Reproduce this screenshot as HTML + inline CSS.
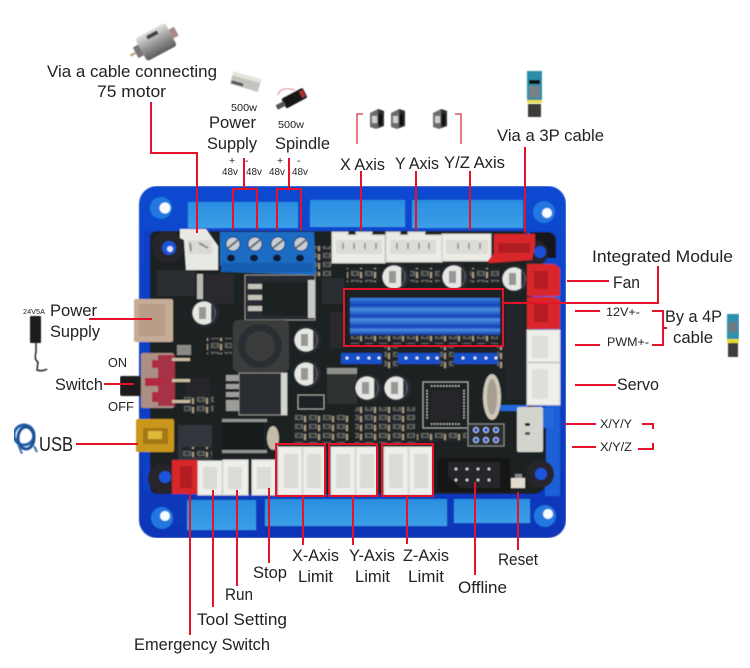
<!DOCTYPE html>
<html><head><meta charset="utf-8"><title>Controller board wiring diagram</title>
<style>html,body{margin:0;padding:0;background:#fff}svg{display:block}text{font-family:"Liberation Sans",sans-serif;fill:#222}</style></head>
<body>
<svg xmlns="http://www.w3.org/2000/svg" width="750" height="668" viewBox="0 0 750 668">
<defs>
<filter id="soft" x="0" y="0" width="100%" height="100%"><feGaussianBlur stdDeviation="0.45"/></filter>
<linearGradient id="bl" x1="0" y1="0" x2="0" y2="1"><stop offset="0" stop-color="#0c4ad0"/><stop offset="1" stop-color="#0736b8"/></linearGradient>
<linearGradient id="win" x1="0" y1="0" x2="0" y2="1"><stop offset="0" stop-color="#2b8ee0"/><stop offset="1" stop-color="#3c9fe6"/></linearGradient>
<linearGradient id="hs" x1="0" y1="0" x2="0" y2="1"><stop offset="0" stop-color="#3b82dc"/><stop offset=".2" stop-color="#1440b8"/><stop offset=".3" stop-color="#4a90e0"/><stop offset=".5" stop-color="#1440b8"/><stop offset=".58" stop-color="#4a90e0"/><stop offset=".78" stop-color="#1440b8"/><stop offset=".86" stop-color="#4a90e0"/><stop offset="1" stop-color="#1238a8"/></linearGradient>
<linearGradient id="mot" x1="0" y1="0" x2="0" y2="1"><stop offset="0" stop-color="#e2e2e2"/><stop offset=".5" stop-color="#9a9a9a"/><stop offset="1" stop-color="#5c5c5c"/></linearGradient>
<pattern id="smd" width="14" height="9" patternUnits="userSpaceOnUse"><rect width="14" height="9" fill="#24272b"/><rect x="1" y="1" width="8" height="5" fill="#62645f"/><rect x="3" y="2" width="4" height="3" fill="#33363a"/><rect x="10" y="2" width="2" height="6" fill="#a89a7a"/></pattern>
<g id="cap"><circle r="14" fill="#262a33"/><circle cx="-1" r="11.5" fill="#e6e6e2"/><path d="M6-9A11.5 11.5 0 0 1 6 9Z" fill="#30343a"/><rect x="-6" y="-6" width="7" height="12" fill="#555" opacity=".55"/></g>
<g id="stp"><path d="M0 4 8 0 14 2V17L6 20 0 18Z" fill="#6c6c6c"/><path d="M8 0 14 2V17L8 19Z" fill="#2e2e2e"/><rect x="2" y="7" width="5" height="7" fill="#cfcfcf"/><rect x="9" y="5" width="3" height="11" fill="#111"/></g>
</defs>

<g filter="url(#soft)">
<!-- board -->
<rect x="139" y="186" width="427" height="352" rx="18" fill="url(#bl)"/>
<rect x="188" y="202" width="110" height="26" fill="url(#win)"/>
<rect x="310" y="200" width="95" height="27" fill="url(#win)"/>
<rect x="412" y="200" width="111" height="28" fill="url(#win)"/>
<rect x="187" y="500" width="69" height="30" fill="url(#win)"/>
<rect x="265" y="499" width="182" height="27" fill="url(#win)"/>
<rect x="454" y="499" width="76" height="24" fill="url(#win)"/>
<rect x="143" y="230" width="10" height="262" fill="#0a40c4"/>
<rect x="545" y="296" width="15" height="200" fill="#1c5fd6"/>

<!-- pcb -->
<path d="M150 238Q150 231 158 231H527V262H532V408H546V482Q546 494 530 494H158Q150 494 150 486Z" fill="#1d2024"/>
<path d="M530 232h18a8 8 0 0 1 8 8v18h-26Z" fill="#16181b"/>
<circle cx="535" cy="253" r="13" fill="#23262a"/><circle cx="540" cy="252" r="6" fill="#1a50d8"/>
<circle cx="168" cy="247" r="16" fill="#25282c"/><circle cx="169" cy="248" r="7" fill="#1a55dc"/><circle cx="170" cy="249" r="3" fill="#dfe8f8"/>
<circle cx="163" cy="479" r="15" fill="#25282c"/><circle cx="165" cy="477" r="6" fill="#1a55dc"/>
<circle cx="540" cy="474" r="14" fill="#25282c"/><circle cx="541" cy="474" r="6" fill="#1a55dc"/>
<rect x="500" y="405" width="28" height="6" fill="#2268d8"/>
<rect x="542" y="408" width="12" height="20" fill="#2268d8"/>

<!-- mount holes -->
<g fill="#2377e0"><circle cx="161" cy="208" r="11"/><circle cx="162" cy="518" r="11"/><circle cx="544" cy="212" r="11"/><circle cx="545" cy="516" r="11"/></g>
<g fill="#f6fbff"><circle cx="165" cy="208" r="5.5"/><circle cx="165" cy="516" r="5"/><circle cx="547" cy="213" r="5"/><circle cx="548" cy="514" r="5"/></g>

<!-- small IC and SMD areas -->
<rect x="157" y="270" width="38" height="26" fill="#2b2d30"/>
<rect x="197" y="274" width="6" height="25" fill="#b8b8b4"/>
<rect x="204" y="274" width="30" height="30" fill="#2a2c2f"/>
<rect x="245" y="275" width="70" height="45" fill="#2a2c30" stroke="#8d8d88"/>
<rect x="262" y="282" width="46" height="34" fill="#1e2023"/>
<rect x="308" y="280" width="7" height="38" fill="#c8c8c4"/>
<g fill="#c4c4bc"><rect x="248" y="284" width="14" height="5"/><rect x="248" y="295" width="14" height="5"/><rect x="248" y="306" width="14" height="5"/></g>
<rect x="322" y="278" width="22" height="26" fill="#2b2e31"/>
<rect x="330" y="312" width="14" height="36" fill="#2a2c2f"/>
<rect x="233" y="320" width="56" height="52" rx="5" fill="#3a3c3e"/><circle cx="260" cy="346" r="22" fill="#2c2e30"/><circle cx="260" cy="346" r="15" fill="#3a3c3d"/>
<rect x="239" y="373" width="48" height="42" fill="#2b2d30" stroke="#8a8a86"/>
<rect x="281" y="373" width="6" height="42" fill="#d4d4d0"/>
<rect x="226" y="375" width="13" height="36" fill="#9c9c98"/>
<g fill="#1d2024"><rect x="226" y="381" width="13" height="3"/><rect x="226" y="389" width="13" height="3"/><rect x="226" y="397" width="13" height="3"/></g>
<rect x="327" y="370" width="30" height="34" fill="#2d3033"/><rect x="327" y="368" width="30" height="6" fill="#8f8f8b"/>
<rect x="298" y="395" width="26" height="14" fill="#1f2225" stroke="#a0a09a"/>
<rect x="222" y="423" width="42" height="27" fill="#181a1c"/>
<g fill="#b0b0aa"><rect x="222" y="419" width="45" height="3" opacity=".8"/><rect x="222" y="450" width="45" height="3" opacity=".8"/></g>
<rect x="178" y="425" width="34" height="35" fill="#33363a"/>
<rect x="186" y="378" width="24" height="30" fill="#25282b"/>
<rect x="184" y="395" width="30" height="18" fill="url(#smd)"/>
<rect x="182" y="447" width="30" height="10" fill="url(#smd)"/>
<rect x="207" y="338" width="25" height="16" fill="url(#smd)"/>
<rect x="177" y="345" width="14" height="10" fill="#8a8a84"/>
<rect x="293" y="415" width="55" height="28" fill="url(#smd)"/>
<rect x="355" y="407" width="60" height="36" fill="url(#smd)"/>
<rect x="417" y="432" width="50" height="10" fill="url(#smd)"/>
<rect x="347" y="268" width="32" height="14" fill="url(#smd)"/>
<rect x="410" y="268" width="30" height="14" fill="url(#smd)"/>
<rect x="470" y="268" width="30" height="14" fill="url(#smd)"/>
<rect x="315" y="246" width="16" height="30" fill="url(#smd)"/>
<rect x="350" y="336" width="148" height="8" fill="url(#smd)"/>
<rect x="384" y="346" width="14" height="22" fill="url(#smd)"/>
<rect x="440" y="346" width="14" height="22" fill="url(#smd)"/>
<rect x="497" y="346" width="14" height="22" fill="url(#smd)"/>
<rect x="505" y="300" width="20" height="100" fill="#23262a"/>

<!-- caps -->
<use href="#cap" x="205" y="313"/>
<use href="#cap" x="307" y="340"/>
<use href="#cap" x="307" y="374"/>
<use href="#cap" x="368" y="388"/>
<use href="#cap" x="397" y="388"/>
<use href="#cap" x="395" y="277"/>
<use href="#cap" x="455" y="277"/>
<use href="#cap" x="515" y="279"/>

<!-- heatsink and blue headers -->
<rect x="350" y="298" width="150" height="37" fill="url(#hs)"/>
<g fill="#1450c8"><rect x="341" y="353" width="41" height="11"/><rect x="398" y="353" width="42" height="11"/><rect x="454" y="353" width="44" height="11"/></g>
<g fill="#e8eef8"><circle cx="347" cy="358" r="1.5"/><circle cx="358" cy="358" r="1.5"/><circle cx="369" cy="358" r="1.5"/><circle cx="379" cy="358" r="1.5"/><circle cx="406" cy="358" r="1.5"/><circle cx="417" cy="358" r="1.5"/><circle cx="428" cy="358" r="1.5"/><circle cx="437" cy="358" r="1.5"/><circle cx="463" cy="358" r="1.5"/><circle cx="475" cy="358" r="1.5"/><circle cx="486" cy="358" r="1.5"/><circle cx="496" cy="358" r="1.5"/></g>

<!-- MCU, crystal -->
<rect x="423" y="382" width="45" height="46" fill="none" stroke="#a8a8a2"/>
<rect x="431" y="390" width="29" height="30" fill="#25282b"/>
<g stroke="#c4c4bc" stroke-width="1.5" stroke-dasharray="1.5 1.5"><path d="M431 386H460M431 424H460M427 390V420M464 390V420"/></g>
<ellipse cx="492" cy="397" rx="9" ry="23" fill="#cfc8ba"/><ellipse cx="492" cy="397" rx="5" ry="18" fill="#a69f90"/>
<ellipse cx="273" cy="438" rx="6" ry="12" fill="#c4bca8"/>
<rect x="468" y="424" width="36" height="22" fill="#2b2e32" stroke="#888"/>
<g fill="#1a55d8" stroke="#cbd4e4" stroke-width="1"><circle cx="476" cy="430" r="2.5"/><circle cx="486" cy="430" r="2.5"/><circle cx="496" cy="430" r="2.5"/><circle cx="476" cy="440" r="2.5"/><circle cx="486" cy="440" r="2.5"/><circle cx="496" cy="440" r="2.5"/></g>

<!-- top connectors -->
<path d="M180 229H206L218 246V270H186L184 240 180 238Z" fill="#e8e8e4"/>
<rect x="188" y="240" width="24" height="14" fill="#dadad6"/>
<path d="M190 243 191 251M199 243 208 248" stroke="#8c8c84" stroke-width="2"/>
<path d="M220 232H314L316 272 314 275 225 272 220 265Z" fill="#1f6cc4"/>
<rect x="221" y="263" width="92" height="9" fill="#175bb0"/>
<g fill="#c8ced4" stroke="#0d3f88"><circle cx="233" cy="244" r="7"/><circle cx="255" cy="244" r="7"/><circle cx="278" cy="244" r="7"/><circle cx="301" cy="244" r="7"/></g>
<g stroke="#606870" stroke-width="2"><path d="M228 248 238 240M250 248 260 240M273 248 283 240M296 248 306 240"/></g>
<g fill="#0c1a30"><ellipse cx="231" cy="258" rx="4" ry="3.5"/><ellipse cx="254" cy="258" rx="4" ry="3.5"/><ellipse cx="277" cy="258" rx="4" ry="3.5"/><ellipse cx="300" cy="258" rx="4" ry="3.5"/></g>
<g fill="#ecebe6" stroke="#c8c8c2">
<path d="M332 232H348V235H356V232H372V235H385V263H332Z"/>
<path d="M386 232H400V235H408V232H425V235H442V262H386Z"/>
<path d="M442 234H491V261H442Z"/>
</g>
<g fill="#dcdcd6"><rect x="336" y="240" width="46" height="14"/><rect x="390" y="240" width="46" height="14"/><rect x="446" y="240" width="42" height="14"/></g>
<g fill="#9e9e96"><rect x="342" y="243" width="2" height="6"/><rect x="353" y="243" width="2" height="6"/><rect x="364" y="243" width="2" height="6"/><rect x="375" y="243" width="2" height="6"/><rect x="396" y="243" width="2" height="6"/><rect x="407" y="243" width="2" height="6"/><rect x="418" y="243" width="2" height="6"/><rect x="428" y="243" width="2" height="6"/><rect x="457" y="243" width="2" height="6"/><rect x="468" y="243" width="2" height="6"/><rect x="479" y="243" width="2" height="6"/></g>
<path d="M494 234H535V246L532 260 491 263 487 262 494 253Z" fill="#d8252c"/>
<rect x="498" y="243" width="32" height="10" fill="#b01a20"/>

<!-- right connectors -->
<path d="M527 264H554L560 268V296H527Z" fill="#d8252c"/>
<path d="M527 297H554L560 300V329H527Z" fill="#d8252c"/>
<rect x="534" y="271" width="14" height="18" fill="#b21a20"/><rect x="534" y="304" width="14" height="18" fill="#b21a20"/>
<g fill="#eeeeea" stroke="#ccc"><rect x="527" y="330" width="33" height="32"/><rect x="527" y="363" width="33" height="42"/></g>
<g fill="#dfdfda"><rect x="532" y="336" width="16" height="22"/><rect x="532" y="369" width="16" height="30"/></g>
<rect x="517" y="407" width="26" height="45" rx="2" fill="#d4d4ce"/>
<rect x="525" y="423" width="5" height="3" fill="#222"/><rect x="525" y="432" width="5" height="3" fill="#555"/>

<!-- left connectors -->
<rect x="134" y="299" width="39" height="43" rx="2" fill="#c6ab96"/>
<rect x="139" y="304" width="26" height="32" fill="#b79c88"/>
<rect x="120" y="376" width="21" height="20" rx="2" fill="#1a1a1a"/>
<rect x="141" y="353" width="33" height="55" rx="2" fill="#ab8e84"/>
<rect x="158" y="355" width="17" height="51" fill="#a53045"/>
<path d="M152 360H158V368H152ZM152 392H158V402H152ZM145 378H165V386H145Z" fill="#b22b3f"/>
<g fill="#c8bba0"><rect x="172" y="358" width="18" height="3"/><rect x="172" y="379" width="18" height="3"/><rect x="172" y="400" width="18" height="3"/></g>
<rect x="136" y="419" width="38" height="33" rx="2" fill="#c9971e"/>
<rect x="143" y="428" width="25" height="16" fill="#a57812"/>
<rect x="148" y="431" width="14" height="8" fill="#e0b838"/>

<!-- bottom connectors -->
<path d="M172 460H198V494H172Z" fill="#d8252c"/>
<rect x="180" y="466" width="12" height="22" fill="#b21a20"/>
<g fill="#eeeeea" stroke="#d8d8d2"><rect x="198" y="461" width="24" height="34"/><rect x="223" y="460" width="25" height="35"/><rect x="252" y="460" width="24" height="35"/><rect x="278" y="447" width="24" height="48"/><rect x="303" y="447" width="22" height="48"/><rect x="331" y="447" width="24" height="48"/><rect x="356" y="447" width="21" height="48"/><rect x="384" y="447" width="24" height="48"/><rect x="409" y="447" width="23" height="48"/></g>
<g fill="#dcdcd6"><rect x="203" y="467" width="14" height="22"/><rect x="228" y="467" width="14" height="22"/><rect x="257" y="467" width="14" height="22"/><rect x="284" y="454" width="14" height="34"/><rect x="307" y="454" width="14" height="34"/><rect x="336" y="454" width="14" height="34"/><rect x="360" y="454" width="14" height="34"/><rect x="389" y="454" width="14" height="34"/><rect x="414" y="454" width="14" height="34"/></g>
<rect x="437" y="458" width="73" height="34" fill="#141517"/>
<path d="M448 462H500V488H460L448 476Z" fill="#252729"/>
<g fill="#ddd"><circle cx="456" cy="469" r="1.4"/><circle cx="467" cy="469" r="1.4"/><circle cx="478" cy="469" r="1.4"/><circle cx="489" cy="469" r="1.4"/><circle cx="456" cy="480" r="1.4"/><circle cx="467" cy="480" r="1.4"/><circle cx="478" cy="480" r="1.4"/><circle cx="489" cy="480" r="1.4"/></g>
<rect x="511" y="478" width="14" height="10" fill="#e0ddd0"/><rect x="515" y="474" width="7" height="4" fill="#888"/>
</g>

<!-- red annotations -->
<g fill="none" stroke="#e5132a" stroke-width="2">
<path d="M151 102V153H197V233"/>
<path d="M244 158V189M233 230V189H257V230"/>
<path d="M289 158V189M277 230V189H301V230"/>
<path d="M361 171V230M416 171V230M470 171V230M525 147V233"/>
<path d="M89 319H152M104 384H134M76 444H138"/>
<path d="M567 281H609M503 303H658V266"/>
<path d="M575 311H600M575 345H600M652 311H663V345H652M663 328H667"/>
<path d="M575 385H616M565 424H596M572 447H596"/>
<path d="M642 424H653V429M638 449H653V443"/>
<path d="M190 493V635M213 490V607M237 490V586M269 488V563M303 496V545M353 496V545M407 495V544M475 482V575M518 492V550"/>
<rect x="344" y="289" width="159" height="57"/>
<rect x="276" y="444" width="49" height="52"/>
<rect x="329" y="444" width="48" height="52"/>
<rect x="382" y="444" width="51" height="52"/>
</g>
<g fill="none" stroke="#d9343f" stroke-width="1.3"><path d="M363 114H357V144M455 114H461V144"/></g>

<!-- peripheral pictures -->
<g filter="url(#soft)">
<g transform="rotate(-28 156 42)"><rect x="139" y="29" width="34" height="26" rx="3" fill="url(#mot)"/><rect x="133" y="36" width="6" height="12" fill="#777"/><rect x="173" y="37" width="6" height="10" fill="#a88"/><rect x="127" y="41" width="6" height="2" fill="#b39878"/><rect x="150" y="32" width="12" height="4" fill="#444"/></g>
<g transform="rotate(16 245 82)"><rect x="231" y="75" width="29" height="13" fill="#c4c4be"/><rect x="231" y="75" width="29" height="4" fill="#e4e4dc"/><rect x="232" y="84" width="12" height="3" fill="#555"/></g>
<g transform="rotate(-28 292 100)"><rect x="283" y="94" width="24" height="11" rx="2" fill="#141414"/><rect x="275" y="97" width="9" height="5" fill="#555"/><rect x="302" y="96" width="4" height="7" fill="#b03030"/></g>
<path d="M278 95Q280 86 295 90" fill="none" stroke="#d88a9a" stroke-width="1"/>
<use href="#stp" x="370" y="109"/><use href="#stp" x="391" y="109"/><use href="#stp" x="433" y="109"/>
<g><rect x="527" y="71" width="15" height="32" fill="#2a8ea8"/><rect x="529" y="80" width="11" height="4" fill="#111"/><rect x="529" y="86" width="11" height="12" fill="#78808a"/><rect x="527" y="100" width="15" height="3" fill="#e8df40"/><rect x="528" y="104" width="13" height="13" fill="#3a3a38"/></g>
<g><rect x="727" y="314" width="12" height="26" fill="#2e90ae"/><rect x="729" y="322" width="8" height="10" fill="#70787e"/><rect x="727" y="339" width="12" height="4" fill="#e4dc3c"/><rect x="728" y="343" width="10" height="14" fill="#3c3c3a"/></g>
<rect x="30" y="316" width="11" height="27" rx="1" fill="#1c1c1c"/>
<path d="M36 343V352Q34 360 38 362L37 370Q42 372 47 369" fill="none" stroke="#222" stroke-width="1.5"/>
<g fill="none" stroke="#2260a8" stroke-width="3"><ellipse cx="24" cy="435" rx="10" ry="10"/><ellipse cx="26" cy="438" rx="8" ry="11" stroke="#1a4f96"/></g>
<path d="M18 444 22 454" stroke="#3a6eb0" stroke-width="2"/><path d="M34 446 37 452" stroke="#3a6eb0" stroke-width="2"/>
</g>

<!-- labels -->
<g font-size="17">
<text x="47" y="77" textLength="170" lengthAdjust="spacingAndGlyphs">Via a cable connecting</text>
<text x="97" y="97" textLength="69" lengthAdjust="spacingAndGlyphs">75 motor</text>
<text x="209" y="128" textLength="47" lengthAdjust="spacingAndGlyphs">Power</text>
<text x="207" y="149" textLength="50" lengthAdjust="spacingAndGlyphs">Supply</text>
<text x="275" y="149" textLength="55" lengthAdjust="spacingAndGlyphs">Spindle</text>
<text x="340" y="170" textLength="45" lengthAdjust="spacingAndGlyphs">X Axis</text>
<text x="395" y="169" textLength="44" lengthAdjust="spacingAndGlyphs">Y Axis</text>
<text x="444" y="168" textLength="61" lengthAdjust="spacingAndGlyphs">Y/Z Axis</text>
<text x="497" y="141" textLength="107" lengthAdjust="spacingAndGlyphs">Via a 3P cable</text>
<text x="592" y="262" textLength="141" lengthAdjust="spacingAndGlyphs">Integrated Module</text>
<text x="613" y="288" textLength="27" lengthAdjust="spacingAndGlyphs">Fan</text>
<text x="665" y="322" textLength="57" lengthAdjust="spacingAndGlyphs">By a 4P</text>
<text x="673" y="343" textLength="40" lengthAdjust="spacingAndGlyphs">cable</text>
<text x="617" y="390" textLength="42" lengthAdjust="spacingAndGlyphs">Servo</text>
<text x="50" y="316" textLength="47" lengthAdjust="spacingAndGlyphs">Power</text>
<text x="50" y="337" textLength="50" lengthAdjust="spacingAndGlyphs">Supply</text>
<text x="55" y="390" textLength="48" lengthAdjust="spacingAndGlyphs">Switch</text>
<text x="292" y="561" textLength="47" lengthAdjust="spacingAndGlyphs">X-Axis</text>
<text x="298" y="582" textLength="35" lengthAdjust="spacingAndGlyphs">Limit</text>
<text x="349" y="561" textLength="46" lengthAdjust="spacingAndGlyphs">Y-Axis</text>
<text x="355" y="582" textLength="35" lengthAdjust="spacingAndGlyphs">Limit</text>
<text x="403" y="561" textLength="46" lengthAdjust="spacingAndGlyphs">Z-Axis</text>
<text x="408" y="582" textLength="36" lengthAdjust="spacingAndGlyphs">Limit</text>
<text x="253" y="578" textLength="34" lengthAdjust="spacingAndGlyphs">Stop</text>
<text x="498" y="565" textLength="40" lengthAdjust="spacingAndGlyphs">Reset</text>
<text x="458" y="593" textLength="49" lengthAdjust="spacingAndGlyphs">Offline</text>
<text x="225" y="600" textLength="28" lengthAdjust="spacingAndGlyphs">Run</text>
<text x="197" y="625" textLength="90" lengthAdjust="spacingAndGlyphs">Tool Setting</text>
<text x="134" y="650" textLength="136" lengthAdjust="spacingAndGlyphs">Emergency Switch</text>
</g>
<text x="39" y="451" font-size="20" textLength="34" lengthAdjust="spacingAndGlyphs">USB</text>
<g font-size="13"><text x="108" y="367" textLength="19" lengthAdjust="spacingAndGlyphs">ON</text><text x="108" y="411" textLength="26" lengthAdjust="spacingAndGlyphs">OFF</text></g>
<g font-size="11.5">
<text x="606" y="316" textLength="34" lengthAdjust="spacingAndGlyphs">12V+-</text>
<text x="607" y="346" textLength="42" lengthAdjust="spacingAndGlyphs">PWM+-</text>
<text x="600" y="428" textLength="32" lengthAdjust="spacingAndGlyphs">X/Y/Y</text>
<text x="600" y="451" textLength="32" lengthAdjust="spacingAndGlyphs">X/Y/Z</text>
</g>
<g font-size="10.5">
<text x="231" y="111" textLength="26" lengthAdjust="spacingAndGlyphs">500w</text>
<text x="278" y="128" textLength="26" lengthAdjust="spacingAndGlyphs">500w</text>
<text x="229" y="164">+</text><text x="245" y="164">-</text><text x="277" y="164">+</text><text x="297" y="164">-</text>
<text x="222" y="175" textLength="16" lengthAdjust="spacingAndGlyphs">48v</text>
<text x="246" y="175" textLength="16" lengthAdjust="spacingAndGlyphs">48v</text>
<text x="269" y="175" textLength="16" lengthAdjust="spacingAndGlyphs">48v</text>
<text x="292" y="175" textLength="16" lengthAdjust="spacingAndGlyphs">48v</text>
</g>
<text x="23" y="314" font-size="7.5" textLength="22" lengthAdjust="spacingAndGlyphs">24V5A</text>
</svg>
</body></html>
